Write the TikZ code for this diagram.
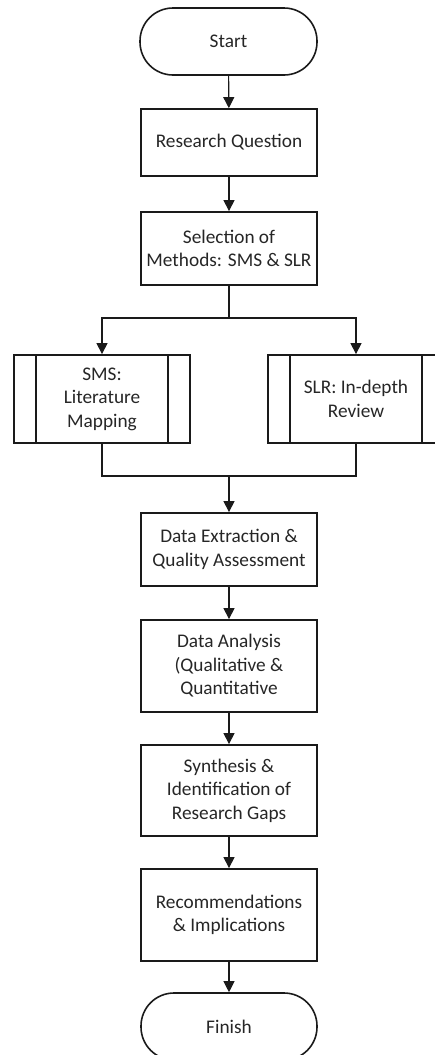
\documentclass[tikz,border=0pt]{standalone}
\usepackage{fontspec}
\setmainfont{Carlito}
\usetikzlibrary{arrows.meta}
\definecolor{txt}{HTML}{262626}
\definecolor{ln}{HTML}{1A1A1A}
\begin{document}
\begin{tikzpicture}[x=1pt,y=-1pt,
  every node/.style={font=\fontsize{19.3}{23.5}\selectfont, text=txt, align=center, inner sep=0pt},
  procbox/.style={draw=ln, line width=1.8pt, minimum width=176pt},
  termbox/.style={draw=ln, line width=1.6pt, minimum width=177pt, minimum height=67pt, rounded corners=33pt},
  subbox/.style={procbox, minimum height=88pt,
    path picture={\draw[ln, line width=1.8pt] ([xshift=22pt]path picture bounding box.north west) -- ([xshift=22pt]path picture bounding box.south west);
                  \draw[ln, line width=1.8pt] ([xshift=-22pt]path picture bounding box.north east) -- ([xshift=-22pt]path picture bounding box.south east);}},
  conn/.style={draw=ln, line width=1.1pt},
  arr/.style={conn, -{Triangle[length=11pt,width=11pt]}}
]
\useasboundingbox (0,0) rectangle (434,1055);
\node[termbox] (start) at (228.5,41.5) {Start};
\node[procbox, minimum height=67pt] (rq) at (229,142.5) {Research Question};
\node[procbox, minimum height=73pt] (sel) at (229,248.5) {Selection of\\Methods: SMS \& SLR};
\node[subbox] (sms) at (102,399) {SMS:\\Literature\\Mapping};
\node[subbox] (slr) at (356,399) {SLR: In-depth\\Review};
\node[procbox, minimum height=73pt] (de) at (229,549.5) {Data Extraction \&\\Quality Assessment};
\node[procbox, minimum height=92pt] (da) at (229,666) {Data Analysis\\(Qualitative \&\\Quantitative};
\node[procbox, minimum height=91pt] (syn) at (229,790.5) {Synthesis \&\\Identification of\\Research Gaps};
\node[procbox, minimum height=92pt] (rec) at (229,915) {Recommendations\\\& Implications};
\node[termbox, minimum width=176pt] (fin) at (229,1026.5) {Finish};
\coordinate (br) at (229,318);
\coordinate (mg) at (229,476);
\draw[arr] (start) -- (rq);
\draw[arr] (rq) -- (sel);
\draw[conn] (sel) -- (br);
\draw[arr] (br) -| (sms);
\draw[arr] (br) -| (slr);
\draw[conn] (sms) |- (mg);
\draw[conn] (slr) |- (mg);
\draw[arr] (mg) -- (de);
\draw[arr] (de) -- (da);
\draw[arr] (da) -- (syn);
\draw[arr] (syn) -- (rec);
\draw[arr] (rec) -- (fin);
\end{tikzpicture}
\end{document}
